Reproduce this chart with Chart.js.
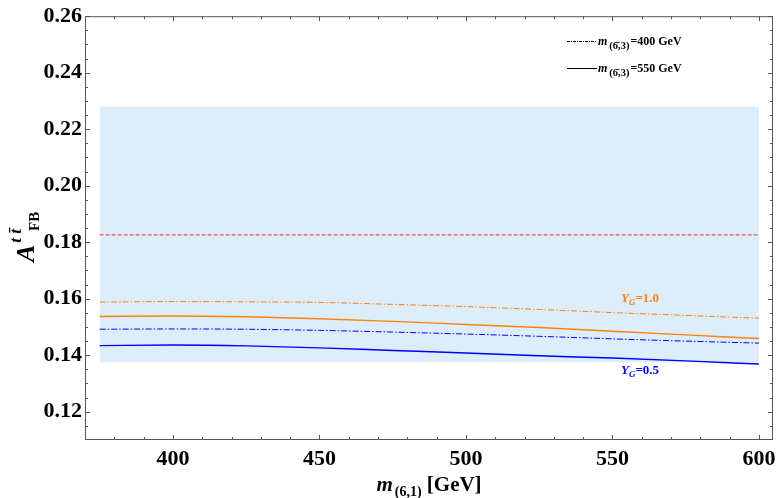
<!DOCTYPE html>
<html>
<head>
<meta charset="utf-8">
<script src="https://cdn.jsdelivr.net/npm/chart.js@4/dist/chart.umd.min.js"></script>
<style>
  html, body { margin: 0; padding: 0; background: #fff; }
  #wrap { width: 778px; height: 498px; }
</style>
</head>
<body>
<div id="wrap"><canvas id="c" width="778" height="498"></canvas></div>
<script>
// masses m_(6,1) in GeV
const massPoints = [375, 400, 425, 450, 475, 500, 525, 550, 575, 600];

// A_FB curves, Y_G = 1.0 (orange) and Y_G = 0.5 (blue)
const yg10m400 = [0.1588, 0.1590, 0.1589, 0.1587, 0.1580, 0.1572, 0.1562, 0.1551, 0.1541, 0.1531];
const yg10m550 = [0.1537, 0.1539, 0.1536, 0.1529, 0.1520, 0.1509, 0.1498, 0.1485, 0.1472, 0.1459];
const yg05m400 = [0.1492, 0.1493, 0.1492, 0.1488, 0.1482, 0.1475, 0.1467, 0.1458, 0.1450, 0.1443];
const yg05m550 = [0.1434, 0.1436, 0.1433, 0.1426, 0.1417, 0.1408, 0.1398, 0.1390, 0.1380, 0.1369];

// measured value and 1 sigma band
const bandEdges = [375, 600];
const measured = 0.1826;
const bandHigh = 0.228;
const bandLow = 0.1375;

const xTicks = [400, 450, 500, 550, 600];
const yTicks = [0.12, 0.14, 0.16, 0.18, 0.20, 0.22, 0.24, 0.26];

const ORANGE = 'rgb(255,128,10)';
const BLUE = 'rgb(0,0,255)';
const SERIF = '"Liberation Serif", "DejaVu Serif", serif';

const pts = (xs, ys) => xs.map((x, i) => ({ x: x, y: ys[i] }));
const flat = (v) => bandEdges.map(x => ({ x: x, y: v }));

// frame, inward ticks, axis titles, legend and curve labels
const decor = {
  id: 'decor',
  afterDatasetsDraw(chart) {
    const ctx = chart.ctx;
    const a = chart.chartArea;
    const xs = chart.scales.x, ys = chart.scales.y;
    ctx.save();
    ctx.strokeStyle = '#555';
    ctx.lineWidth = 1;
    ctx.strokeRect(a.left + 0.5, a.top + 0.5, a.right - a.left - 1, a.bottom - a.top - 1);

    ctx.beginPath();
    for (let v = 380; v <= 600; v += 10) {
      const px = Math.round(xs.getPixelForValue(v)) + 0.5;
      const len = v % 50 === 0 ? 5 : 3;
      ctx.moveTo(px, a.bottom); ctx.lineTo(px, a.bottom - len);
      ctx.moveTo(px, a.top); ctx.lineTo(px, a.top + len);
    }
    for (let k = 23; k <= 52; k++) {
      const v = k * 0.005;
      const py = Math.round(ys.getPixelForValue(v)) + 0.5;
      const len = k % 4 === 0 ? 5 : 3;
      ctx.moveTo(a.left, py); ctx.lineTo(a.left + len, py);
      ctx.moveTo(a.right, py); ctx.lineTo(a.right - len, py);
    }
    ctx.stroke();

    ctx.fillStyle = '#000';
    ctx.textBaseline = 'alphabetic';
    ctx.textAlign = 'left';

    // x axis title: m_(6,1) [GeV]
    const f1 = 'italic bold 21px ' + SERIF;
    const f2 = 'bold 14px ' + SERIF;
    const f3 = 'bold 21px ' + SERIF;
    ctx.font = f1; const w1 = ctx.measureText('m').width;
    ctx.font = f2; const w2 = ctx.measureText('(6,1)').width;
    ctx.font = f3; const w3 = ctx.measureText(' [GeV]').width;
    let x0 = (a.left + a.right) / 2 - (w1 + 2 + w2 + w3) / 2;
    ctx.font = f1; ctx.fillText('m', x0, 491);
    ctx.font = f2; ctx.fillText('(6,1)', x0 + w1 + 2, 496);
    ctx.font = f3; ctx.fillText(' [GeV]', x0 + w1 + 2 + w2, 491);

    // y axis title: A^{t tbar}_FB
    ctx.save();
    ctx.translate(34, 262);
    ctx.rotate(-Math.PI / 2);
    ctx.font = 'italic bold 26px ' + SERIF;
    ctx.fillText('A', 0, 0);
    const wa = ctx.measureText('A').width;
    ctx.font = 'italic bold 17px ' + SERIF;
    ctx.fillText('t t\u0304', wa + 2, -13);
    const wt = ctx.measureText('t t\u0304').width;
    ctx.font = 'bold 15px ' + SERIF;
    ctx.fillText('FB', wa + wt, 5);
    ctx.restore();

    // legend
    const legendRows = [
      { y: 41, dash: [3, 1, 1, 1], mass: '400' },
      { y: 68, dash: [], mass: '550' }
    ];
    legendRows.forEach(r => {
      ctx.strokeStyle = '#000';
      ctx.lineWidth = 1;
      ctx.setLineDash(r.dash);
      ctx.beginPath();
      ctx.moveTo(567, r.y + 0.5); ctx.lineTo(597, r.y + 0.5);
      ctx.stroke();
      ctx.setLineDash([]);
      let lx = 598;
      ctx.font = 'italic bold 12px ' + SERIF;
      ctx.fillText('m', lx, r.y + 4); lx += ctx.measureText('m').width + 2;
      ctx.font = 'bold 10.5px ' + SERIF;
      ctx.fillText('(6\u0304,3)', lx, r.y + 8); lx += ctx.measureText('(6\u0304,3)').width + 1;
      ctx.font = 'bold 12px ' + SERIF;
      ctx.fillText('=' + r.mass + ' GeV', lx, r.y + 4);
    });

    // curve labels
    const curveLabels = [
      { color: ORANGE, text: '=1.0', y: 302 },
      { color: BLUE, text: '=0.5', y: 374 }
    ];
    curveLabels.forEach(c => {
      ctx.fillStyle = c.color;
      let lx = 621;
      ctx.font = 'italic bold 13px ' + SERIF;
      ctx.fillText('Y', lx, c.y); lx += ctx.measureText('Y').width;
      ctx.font = 'italic bold 9px ' + SERIF;
      ctx.fillText('G', lx, c.y + 3); lx += ctx.measureText('G').width;
      ctx.font = 'bold 13px ' + SERIF;
      ctx.fillText(c.text, lx, c.y);
    });
    ctx.restore();
  }
};

const lineDs = (data, color, dash, width) => ({
  data: data,
  borderColor: color,
  borderWidth: width,
  borderDash: dash,
  pointRadius: 0,
  fill: false,
  tension: 0.4,
  cubicInterpolationMode: 'monotone',
  order: 1
});

new Chart(document.getElementById('c'), {
  type: 'line',
  data: {
    datasets: [
      lineDs(pts(massPoints, yg10m400), ORANGE, [6, 2, 1.5, 2], 1),
      lineDs(pts(massPoints, yg10m550), ORANGE, [], 1.4),
      lineDs(pts(massPoints, yg05m400), BLUE, [6, 2, 1.5, 2], 1),
      lineDs(pts(massPoints, yg05m550), BLUE, [], 1.4),
      lineDs(flat(measured), 'rgb(232,50,60)', [4, 2], 1),
      { data: flat(bandHigh), borderWidth: 0, pointRadius: 0, fill: false, order: 10 },
      { data: flat(bandLow), borderWidth: 0, pointRadius: 0, fill: '-1',
        backgroundColor: 'rgb(221,237,252)', order: 11 }
    ]
  },
  options: {
    responsive: false,
    animation: false,
    devicePixelRatio: 1,
    layout: { padding: { top: 15, right: 5, left: 0, bottom: 0 } },
    plugins: {
      legend: { display: false },
      tooltip: { enabled: false }
    },
    scales: {
      x: {
        type: 'linear',
        min: 370,
        max: 604.8,
        grid: { display: false, drawTicks: false },
        border: { display: false },
        afterBuildTicks: (s) => { s.ticks = xTicks.map(v => ({ value: v })); },
        afterFit: (s) => { s.height = 58; s.paddingLeft = 0; s.paddingRight = 0; },
        ticks: {
          color: '#000',
          padding: 6,
          maxRotation: 0,
          font: { family: SERIF, size: 22, weight: 'bold' }
        }
      },
      y: {
        min: 0.11,
        max: 0.26,
        grid: { display: false, drawTicks: false },
        border: { display: false },
        afterBuildTicks: (s) => { s.ticks = yTicks.map(v => ({ value: v })); },
        afterFit: (s) => { s.width = 85; },
        ticks: {
          color: '#000',
          padding: 3,
          font: { family: SERIF, size: 22, weight: 'bold' },
          callback: (v) => Number(v).toFixed(2)
        }
      }
    }
  },
  plugins: [decor]
});
</script>
</body>
</html>
